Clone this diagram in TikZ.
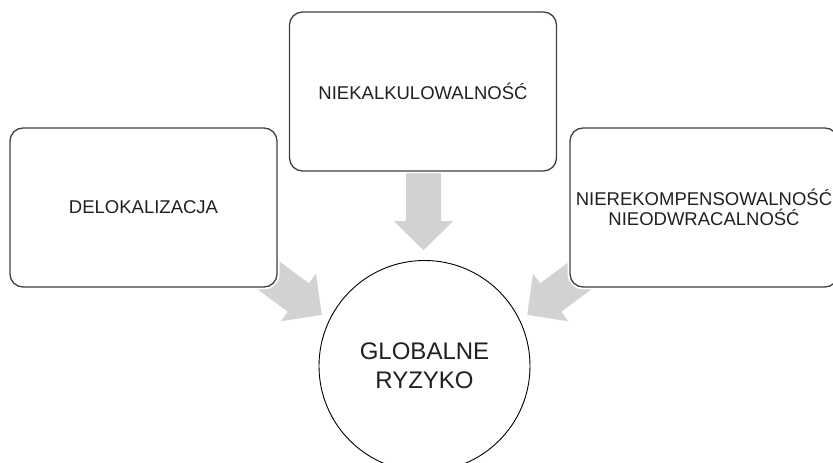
\documentclass[tikz,border=0pt]{standalone}
\usepackage{fontspec}
\setmainfont{Liberation Sans}
\usetikzlibrary{shapes.arrows}
\definecolor{arrowgray}{RGB}{209,210,212}
\definecolor{boxline}{RGB}{64,64,64}
\definecolor{txt}{RGB}{35,31,32}
\tikzset{
    factor/.style={rectangle,rounded corners=13pt,draw=boxline,line width=1.3pt,fill=white,
        preaction={draw=white,line width=5pt},minimum width=267pt,minimum height=159pt,
        align=center,text=txt,font=\fontsize{18.5}{20.5}\selectfont},
    pointer/.style={single arrow,fill=arrowgray,draw=none,inner xsep=0pt,inner ysep=17.5pt,
        minimum height=82pt,single arrow head extend=12pt,single arrow tip angle=91,anchor=tip}
}
\begin{document}
\begin{tikzpicture}[x=1pt,y=1pt]
        \useasboundingbox (0,0) rectangle (833,463);
        % arrows towards the centre, placed by their tips
        \foreach \name/\x/\y/\ang in {pleft/322/148/-36.5, ptop/423.5/212.5/-90, pright/527/148/-143.5}
        {
            \node (\name) at (\x,\y)[pointer,rotate=\ang]{};
        }
        \node (deloc) at (143.5,255.5)[factor]{DELOKALIZACJA};
        \node (niekalk) at (423,371.5)[factor]{NIEKALKULOWALNOŚĆ};
        \node (nierek) at (704,255.5)[factor,minimum width=268pt]{NIEREKOMPENSOWALNOŚĆ\\NIEODWRACALNOŚĆ};
        \node (ryzyko) at (424.5,97)[circle,draw=black,line width=0.9pt,fill=white,minimum size=211pt,
            inner sep=0pt,align=center,text=txt,font=\fontsize{24}{29}\selectfont]{GLOBALNE\\RYZYKO};
    \end{tikzpicture}
\end{document}
